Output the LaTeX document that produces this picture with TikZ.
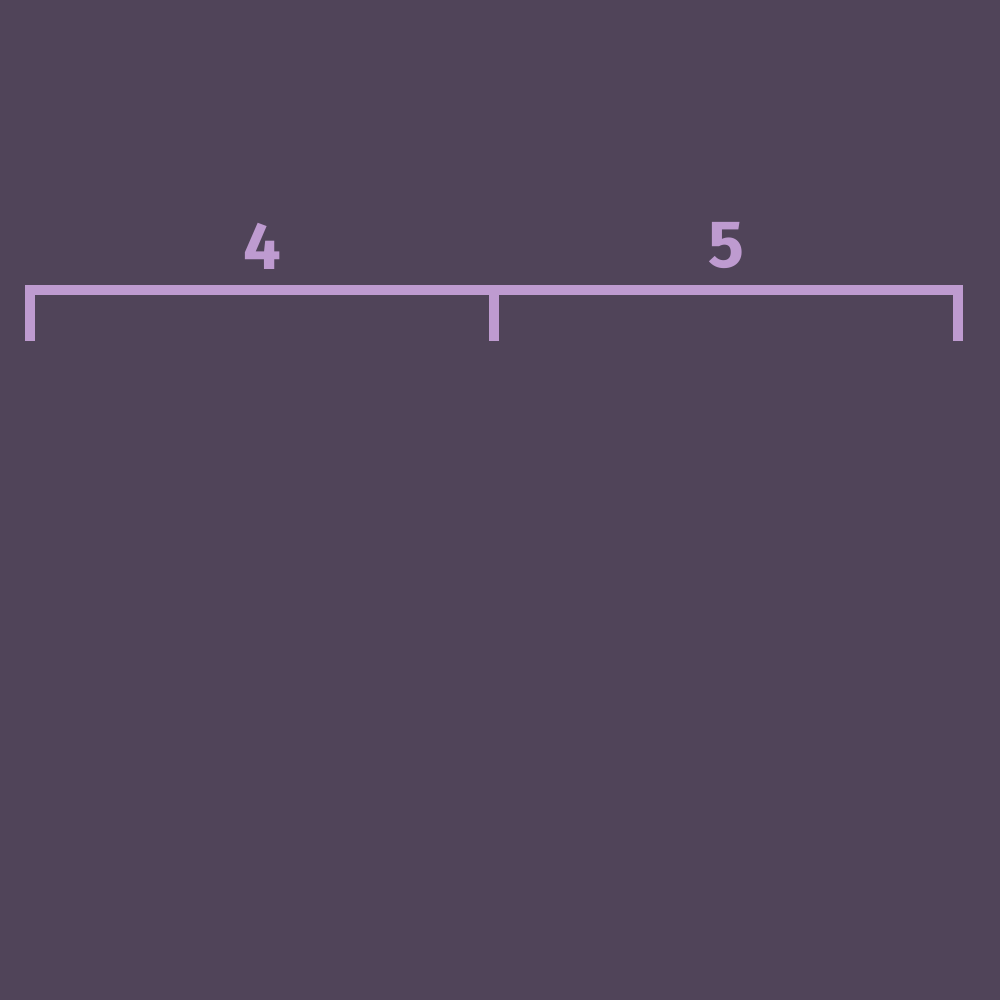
\documentclass[tikz,border=0pt]{standalone}
\usepackage{fontspec}
\setmainfont{Fira Sans}
\usepackage{xcolor}
\usepackage{tikz}
\usetikzlibrary{positioning, calc}
\definecolor{bgpurple}{HTML}{504459}
\definecolor{lilac}{HTML}{BE9BD0}

\begin{document}
\begin{tikzpicture}
    % 背景
    \fill[bgpurple] (0,0) rectangle (10,10);
    \useasboundingbox (0,0) rectangle (10,10);
    % 刻度端点
    \coordinate (L) at (0.30,7.10);
    \coordinate (M) at (4.94,7.10);
    \coordinate (R) at (9.58,7.10);
    \foreach \p in {L, M, R} {
        \coordinate (\p b) at ($(\p)+(0,-0.51)$);
    }
    % 括号
    \draw[lilac, line width=1mm, line join=miter] (Lb) -- (L) -- (R) -- (Rb);
    \draw[lilac, line width=1mm] (M) -- (Mb);
    % 数字
    \node[text=lilac, font=\fontsize{19}{20}\selectfont\bfseries] (four) at ($(L)!0.5!(M)+(0,0.44)$) {4};
    \node[text=lilac, font=\fontsize{19}{20}\selectfont\bfseries] (five) at ($(M)!0.5!(R)+(0,0.44)$) {5};
\end{tikzpicture}
\end{document}
